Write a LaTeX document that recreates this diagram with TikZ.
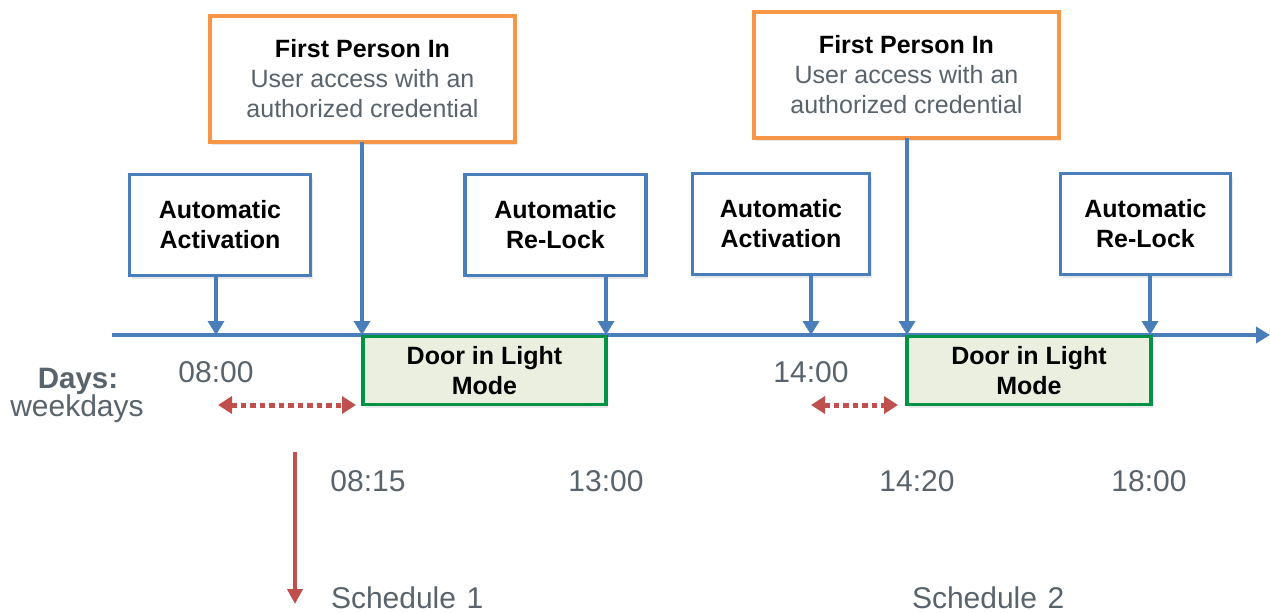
\documentclass[tikz,border=0pt]{standalone}
\usepackage{fontspec}
\setmainfont{Liberation Sans}
\usetikzlibrary{arrows.meta,shadows}
\definecolor{lineblue}{RGB}{74,126,187}
\definecolor{boxorange}{RGB}{247,150,70}
\definecolor{arrowred}{RGB}{192,80,77}
\definecolor{boxgreen}{RGB}{0,146,69}
\definecolor{fillgreen}{RGB}{235,239,224}
\definecolor{txtgray}{RGB}{88,99,108}
\begin{document}
\begin{tikzpicture}[x=1pt,y=-1pt,
  every node/.style={inner sep=0pt, outer sep=0pt},
  boxshadow/.style={drop shadow={opacity=0.18, shadow xshift=2pt, shadow yshift=-3pt}},
  bluebox/.style={draw=lineblue, line width=3.3pt, fill=white, minimum width=181pt, minimum height=101pt,
    align=center, boxshadow, font=\fontsize{25}{30}\selectfont\bfseries},
  orangebox/.style={draw=boxorange, line width=4pt, fill=white, minimum width=305pt, minimum height=126pt,
    align=center, boxshadow, font=\fontsize{25}{30}\selectfont},
  greenbox/.style={draw=boxgreen, line width=3.8pt, fill=fillgreen, minimum height=68pt,
    align=center, boxshadow, font=\fontsize{25}{30}\selectfont\bfseries},
  bluearrow/.style={draw=lineblue, line width=3.5pt, -{Triangle[length=14pt,width=16pt]}},
  redarrow/.style={draw=arrowred, line width=4pt, -{Triangle[length=15pt,width=15pt]}},
  dotarrow/.style={draw=arrowred, line width=5pt, dash pattern=on 5.5pt off 4pt,
    {Triangle[length=14pt,width=17pt]}-{Triangle[length=14pt,width=17pt]}},
  graytxt/.style={text=txtgray, font=\fontsize{30}{35}\selectfont},
]
\useasboundingbox (0,0) rectangle (1270,613);

% timeline
\coordinate (tl0) at (112,335);
\coordinate (tl1) at (1270,335);
\draw[bluearrow] (tl0) -- (tl1);

% timeline points
\coordinate (p1) at (216,335);
\coordinate (p2) at (362,335);
\coordinate (p3) at (606,335);
\coordinate (p4) at (811,335);
\coordinate (p5) at (907,335);
\coordinate (p6) at (1150,335);

% boxes
\node[orangebox] (fp1) at (362.5,79) {\textbf{First Person In}\\\textcolor{txtgray}{User access with an}\\\textcolor{txtgray}{authorized credential}};
\node[orangebox] (fp2) at (906.5,75) {\textbf{First Person In}\\\textcolor{txtgray}{User access with an}\\\textcolor{txtgray}{authorized credential}};

\node[bluebox] (aa1) at (220,225) {Automatic\\Activation};
\node[bluebox] (rl1) at (555.5,225) {Automatic\\Re-Lock};
\node[bluebox, minimum width=177pt] (aa2) at (781,224) {Automatic\\Activation};
\node[bluebox, minimum width=170pt] (rl2) at (1145.5,224) {Automatic\\Re-Lock};

\node[greenbox, minimum width=243pt] (lm1) at (484.5,370.5) {Door in Light\\Mode};
\node[greenbox, minimum width=244pt] (lm2) at (1029,370.5) {Door in Light\\Mode};

% vertical arrows
\draw[bluearrow] (aa1.south -| p1) -- (p1);
\draw[bluearrow] (fp1.south -| p2) -- (p2);
\draw[bluearrow] (rl1.south -| p3) -- (p3);
\draw[bluearrow] (aa2.south -| p4) -- (p4);
\draw[bluearrow] (fp2.south -| p5) -- (p5);
\draw[bluearrow] (rl2.south -| p6) -- (p6);

% labels
\node[graytxt] (t0800) at (216,372) {08:00};
\node[graytxt] (t1400) at (811,372) {14:00};
\node[graytxt, font=\fontsize{29.5}{34}\selectfont\bfseries] (days) at (78,381) {Days:};
\node[graytxt] (wd) at (77,409) {weekdays};
\node[graytxt] (t0815) at (368,481) {08:15};
\node[graytxt] (t1300) at (606,481) {13:00};
\node[graytxt] (t1420) at (917,481) {14:20};
\node[graytxt] (t1800) at (1149,481) {18:00};
\node[graytxt, anchor=west] (s1) at (331,598) {Schedule\hspace{0.35em}1};
\node[graytxt, anchor=west] (s2) at (912,598) {Schedule\hspace{0.35em}2};

% dotted arrows
\coordinate (d1a) at (218,405);
\coordinate (d1b) at (356,405);
\coordinate (d2a) at (811,405);
\coordinate (d2b) at (898,405);
\draw[dotarrow] (d1a) -- (d1b);
\draw[dotarrow] (d2a) -- (d2b);

% red arrow
\coordinate (r0) at (295,452);
\coordinate (r1) at (295,604);
\draw[redarrow] (r0) -- (r1);
\end{tikzpicture}
\end{document}
